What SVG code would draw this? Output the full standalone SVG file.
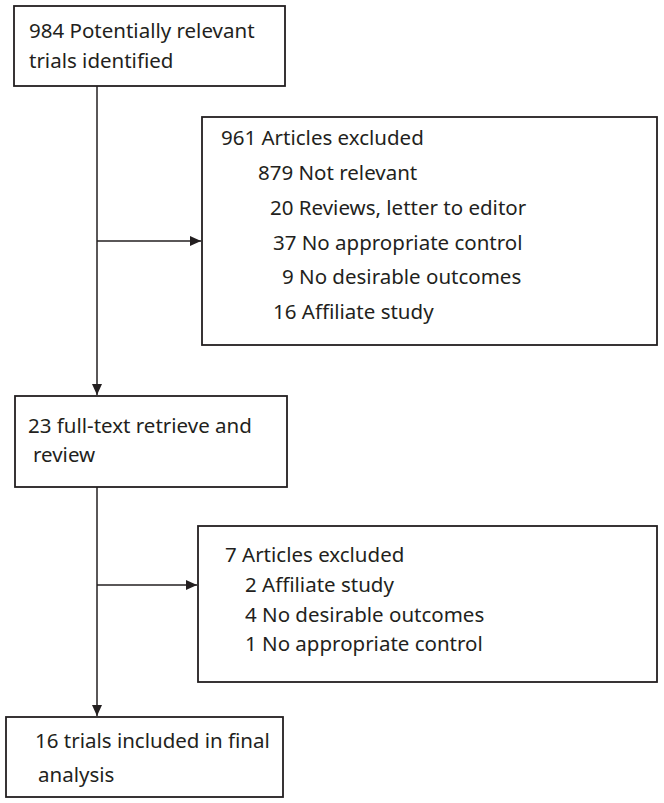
<svg xmlns="http://www.w3.org/2000/svg" width="664" height="803" viewBox="0 0 664 803">
<style>
  .box { fill: #ffffff; stroke: #231f20; stroke-width: 1.8; }
  .t { font-family: "Noto Sans", "Open Sans", sans-serif; font-size: 20.5px; fill: #231f20; }
  .c { stroke: #231f20; stroke-width: 1.5; fill: none; }
</style>
<defs>
  <marker id="arr" markerUnits="userSpaceOnUse" markerWidth="11" markerHeight="11" viewBox="0 0 11 11" refX="11" refY="5.5" orient="auto">
    <path d="M0,0.5 L11,5.5 L0,10.5 Z" fill="#231f20"/>
  </marker>
</defs>
<rect width="664" height="803" fill="#ffffff"/>
<g id="connectors">
  <line class="c" x1="97" y1="86" x2="97" y2="395" marker-end="url(#arr)"/>
  <line class="c" x1="97" y1="241" x2="201" y2="241" marker-end="url(#arr)"/>
  <line class="c" x1="97" y1="487" x2="97" y2="716" marker-end="url(#arr)"/>
  <line class="c" x1="97" y1="585" x2="197" y2="585" marker-end="url(#arr)"/>
</g>
<g id="identified">
  <rect class="box" x="14" y="6" width="271" height="80"/>
  <text class="t" x="29" y="38">984 Potentially relevant</text>
  <text class="t" x="29" y="68">trials identified</text>
</g>
<g id="excluded1">
  <rect class="box" x="202" y="117" width="455" height="228"/>
  <text class="t" x="221" y="145">961 Articles excluded</text>
  <text class="t" x="258" y="180">879 Not relevant</text>
  <text class="t" x="270" y="214.5">20 Reviews, letter to editor</text>
  <text class="t" x="273" y="249.5">37 No appropriate control</text>
  <text class="t" x="282" y="284">9 No desirable outcomes</text>
  <text class="t" x="273" y="319">16 Affiliate study</text>
</g>
<g id="fulltext">
  <rect class="box" x="15" y="396" width="272" height="91"/>
  <text class="t" x="28" y="433">23 full-text retrieve and</text>
  <text class="t" x="33" y="462">review</text>
</g>
<g id="excluded2">
  <rect class="box" x="198" y="526" width="459" height="156"/>
  <text class="t" x="225" y="562">7 Articles excluded</text>
  <text class="t" x="245" y="592">2 Affiliate study</text>
  <text class="t" x="245" y="621.5">4 No desirable outcomes</text>
  <text class="t" x="245" y="651">1 No appropriate control</text>
</g>
<g id="included">
  <rect class="box" x="6" y="717" width="277" height="80"/>
  <text class="t" x="35" y="748">16 trials included in final</text>
  <text class="t" x="38" y="782">analysis</text>
</g>
</svg>
